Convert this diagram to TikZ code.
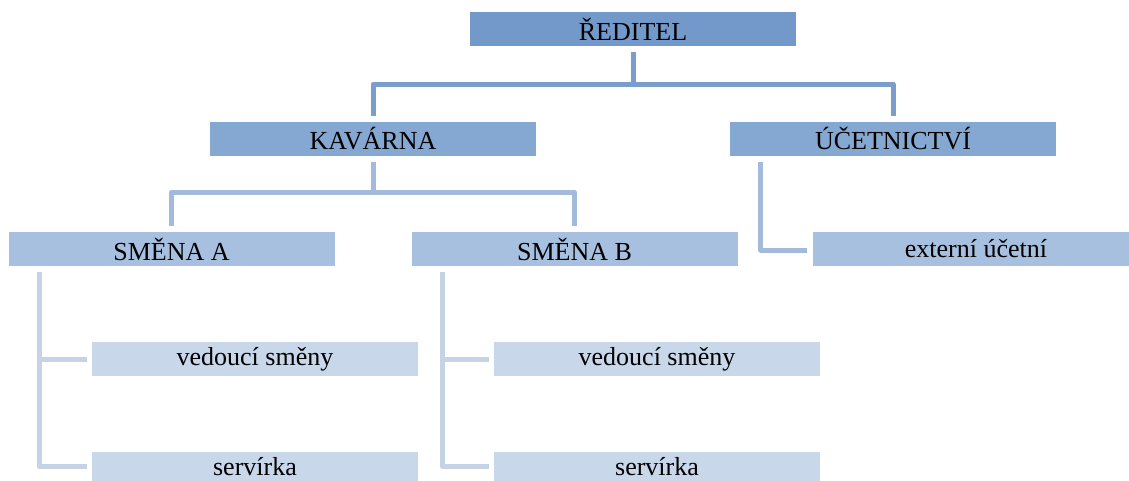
\documentclass[tikz,border=0pt]{standalone}
\usepackage{fontspec}
\setmainfont{Liberation Serif}
\definecolor{c1}{HTML}{7399CA}
\definecolor{c2}{HTML}{84A8D2}
\definecolor{c3}{HTML}{A7C0DF}
\definecolor{c4}{HTML}{C9D7EB}
\definecolor{l1}{HTML}{7A9DCB}
\definecolor{l2}{HTML}{A3BADB}
\definecolor{l3}{HTML}{C6D2E6}
\tikzset{
  box/.style={rectangle, inner sep=0pt, minimum width=326pt, minimum height=34pt,
    font=\fontsize{26}{30}\selectfont, text=black},
  lvA/.style={box, fill=c1},
  lvB/.style={box, fill=c2},
  lvC/.style={box, fill=c3},
  lvD/.style={box, fill=c4},
  lvDcut/.style={box, fill=c4, minimum height=29pt},
  conn/.style={line width=5pt, line join=round},
}
\begin{document}
\begin{tikzpicture}[x=1pt,y=-1pt]
\useasboundingbox (0,0) rectangle (1129,481);
\node[lvA] (red) at (633,29) {ŘEDITEL};
\node[lvB] (kav) at (373,139) {KAVÁRNA};
\node[lvB] (uce) at (893,139) {ÚČETNICTVÍ};
\node[lvC] (smA) at (171.5,249) {SMĚNA A};
\node[lvC] (smB) at (574.5,249) {SMĚNA B};
\node[lvC] (ext) at (976,249) {externí účetní};
\node[lvD] (vA) at (255,359) {vedoucí směny};
\node[lvDcut] (sA) at (255,466.5) {servírka};
\node[lvD] (vB) at (657,359) {vedoucí směny};
\node[lvDcut] (sB) at (657,466.5) {servírka};
% level 1
\draw[conn, l1] ([yshift=-6]red.south) -- ++(0,32) -| ([yshift=6]kav.north);
\draw[conn, l1] ([yshift=-6]red.south) -- ++(0,32) -| ([yshift=6]uce.north);
% level 2
\draw[conn, l2] ([yshift=-6]kav.south) -- ++(0,30) -| ([yshift=6]smA.north);
\draw[conn, l2] ([yshift=-6]kav.south) -- ++(0,30) -| ([yshift=6]smB.north);
\draw[conn, l2] ([xshift=31,yshift=-6]uce.south west) |- ([xshift=-6,yshift=-1]ext.west);
% level 3
\draw[conn, l3] ([xshift=31,yshift=-6]smA.south west) |- ([xshift=-5]vA.west);
\draw[conn, l3] ([xshift=31,yshift=-6]smA.south west) |- ([xshift=-5]sA.west);
\draw[conn, l3] ([xshift=31,yshift=-6]smB.south west) |- ([xshift=-5]vB.west);
\draw[conn, l3] ([xshift=31,yshift=-6]smB.south west) |- ([xshift=-5]sB.west);
\end{tikzpicture}
\end{document}
